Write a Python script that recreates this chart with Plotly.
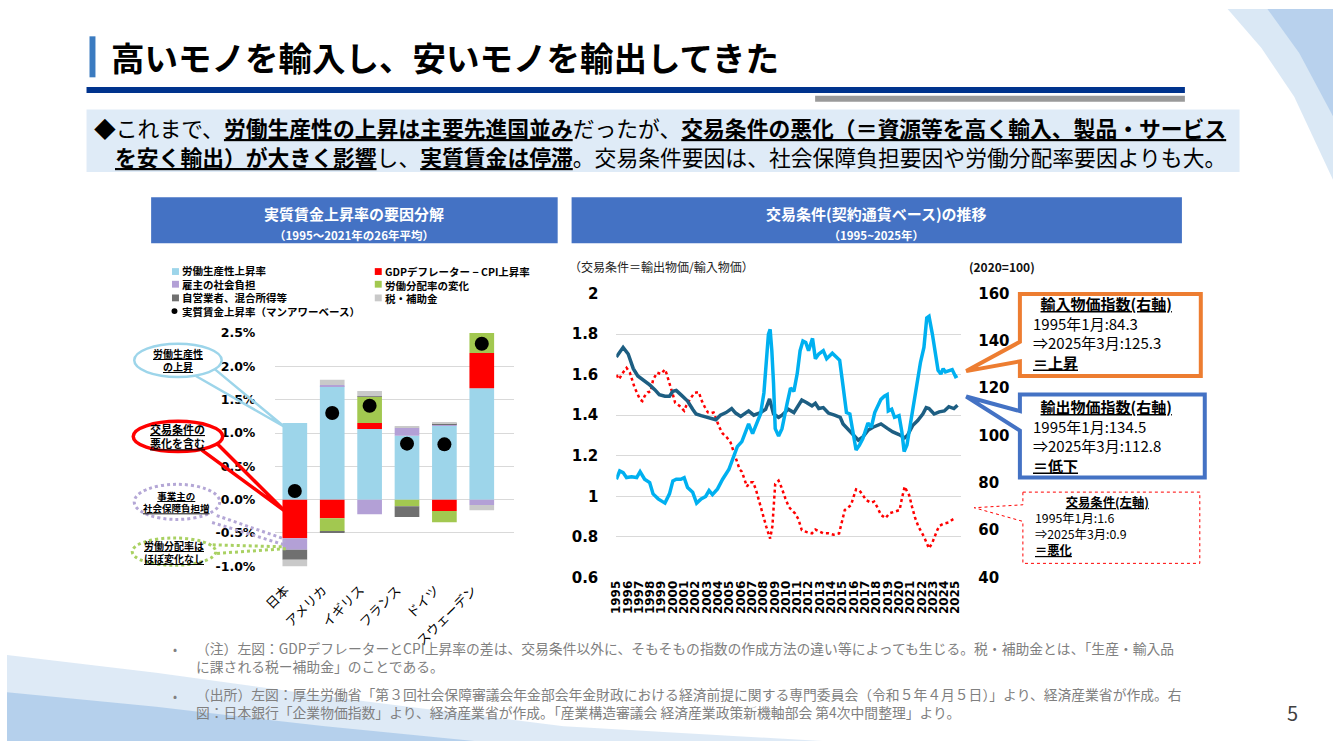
import plotly.graph_objects as go

W, H = 1334, 750


def px(x):
    return x / W


def py(y):
    return 1 - y / H


# ---------------- Left chart data (% , 1995-2021 average) ----------------
COUNTRIES = ["日本", "アメリカ", "イギリス", "フランス", "ドイツ", "スウェーデン"]
PRODUCTIVITY = [1.15, 1.70, 1.06, 0.96, 1.11, 1.67]
DEFLATOR_GAP = [-0.58, -0.28, 0.09, 0.00, -0.17, 0.53]
EMPLOYER_SS = [-0.17, 0.02, -0.22, 0.12, 0.02, -0.08]
LABOR_SHARE = [0.00, -0.20, 0.39, -0.10, -0.17, 0.30]
SELF_EMPLOYED = [-0.15, -0.01, 0.01, -0.16, 0.01, 0.00]
TAX_SUBSIDY = [-0.12, 0.08, 0.08, 0.02, 0.02, -0.08]
REAL_WAGE = [0.13, 1.30, 1.41, 0.84, 0.83, 2.34]
LEFT_TICKS = [-1.0, -0.5, 0.0, 0.5, 1.0, 1.5, 2.0, 2.5]
LEFT_TICKTEXT = ["-1.0%", "-0.5%", "0.0%", "0.5%", "1.0%", "1.5%", "2.0%", "2.5%"]

# ---------------- Right chart data ----------------
EXPORT_T = [1995.0, 1995.6, 1996.05, 1996.5, 1996.9, 1997.5, 1997.95, 1998.4, 1998.8, 1999.3,
            1999.7, 2000.0, 2000.3, 2000.7, 2001.3, 2001.75, 2002.05, 2002.5, 2003.1, 2003.8,
            2004.2, 2004.7, 2005.2, 2005.55, 2006.0, 2006.7, 2007.15, 2007.75, 2008.2, 2008.55,
            2008.9, 2009.35, 2009.65, 2010.2, 2010.7, 2011.4, 2011.85, 2012.3, 2012.6, 2012.9,
            2013.3, 2013.75, 2014.3, 2014.8, 2015.05, 2015.5, 2015.95, 2016.4, 2016.8, 2017.25,
            2017.7, 2018.1, 2018.4, 2019.0, 2019.45, 2020.0, 2020.5, 2020.75, 2021.2, 2021.65,
            2022.1, 2022.4, 2022.65, 2023.1, 2023.55, 2024.0, 2024.4, 2024.85, 2025.17]
EXPORT_IDX = [133.2, 137.3, 134.5, 128.3, 125.2, 123.2, 121.4, 119.4, 117.3, 116.6,
              116.6, 118.7, 119.1, 117.3, 114.6, 111.1, 109.1, 108.4, 107.7, 106.7,
              108.6, 109.7, 111.4, 109.5, 108.1, 110.4, 108.6, 109.7, 111.1, 115.5,
              109.1, 107.7, 108.6, 111.1, 109.7, 115.0, 113.9, 112.5, 113.6, 111.4,
              111.8, 109.5, 108.6, 107.7, 104.9, 102.6, 99.8, 98.0, 99.4, 102.2,
              103.5, 104.5, 104.9, 102.9, 101.5, 100.4, 99.0, 100.1, 104.2, 106.3,
              109.1, 111.8, 111.4, 109.1, 110.0, 110.4, 112.2, 111.4, 112.8]

IMPORT_T = [1995.0, 1995.3, 1995.6, 1995.9, 1996.35, 1996.8, 1997.1, 1997.5, 1997.95, 1998.25,
            1998.7, 1999.3, 1999.7, 2000.0, 2000.3, 2000.7, 2001.0, 2001.3, 2001.75, 2002.1,
            2002.5, 2002.9, 2003.2, 2003.5, 2003.95, 2004.4, 2004.95, 2005.25, 2005.7, 2006.1,
            2006.4, 2006.7, 2007.05, 2007.45, 2007.75, 2008.05, 2008.25, 2008.45, 2008.6, 2008.75,
            2008.9, 2009.05, 2009.35, 2009.65, 2010.1, 2010.4, 2010.7, 2011.0, 2011.25, 2011.5,
            2011.75, 2012.0, 2012.35, 2012.6, 2012.9, 2013.3, 2013.6, 2014.1, 2014.45, 2014.75,
            2015.05, 2015.35, 2015.65, 2015.95, 2016.2, 2016.5, 2016.8, 2017.25, 2017.55, 2017.85,
            2018.1, 2018.4, 2018.7, 2018.95, 2019.05, 2019.35, 2019.6, 2020.0, 2020.25, 2020.45,
            2020.7, 2021.05, 2021.5, 2021.9, 2022.2, 2022.45, 2022.65, 2022.95, 2023.25, 2023.45,
            2023.7, 2023.9, 2024.1, 2024.4, 2024.7, 2025.0, 2025.17]
IMPORT_IDX = [81.5, 85.0, 84.3, 82.2, 82.5, 82.2, 84.7, 81.5, 80.1, 75.3,
              73.2, 71.4, 75.3, 80.8, 81.5, 81.5, 82.2, 78.0, 76.0, 71.4,
              73.2, 74.2, 76.7, 75.0, 77.4, 81.5, 85.6, 89.8, 95.3, 97.4,
              101.5, 104.9, 100.8, 105.6, 109.1, 118.0, 129.0, 142.8, 144.9, 135.9,
              122.2, 102.9, 99.8, 102.9, 113.5, 120.1, 118.7, 126.3, 135.9, 140.0,
              139.4, 135.9, 141.1, 132.5, 134.5, 135.9, 132.5, 134.8, 133.2, 131.8,
              120.8, 109.7, 109.1, 101.5, 93.9, 96.0, 98.7, 105.3, 103.5, 109.7,
              112.5, 115.3, 116.6, 117.3, 110.4, 111.1, 107.7, 108.4, 101.5, 93.2,
              96.0, 107.0, 119.4, 131.1, 137.3, 149.7, 150.4, 142.8, 134.5, 127.6,
              126.0, 128.3, 126.9, 127.6, 127.9, 124.9, 125.3]

TOT_T = [1995.0, 1995.25, 1995.5, 1995.9, 1996.2, 1996.4, 1996.6, 1996.9, 1997.1, 1997.3,
         1997.5, 1997.8, 1998.05, 1998.25, 1998.6, 1998.95, 1999.3, 1999.45, 1999.7, 2000.0,
         2000.2, 2000.6, 2001.0, 2001.2, 2001.5, 2001.9, 2002.3, 2002.5, 2002.8, 2003.1,
         2003.4, 2003.6, 2003.8, 2004.1, 2004.4, 2004.8, 2005.1, 2005.35, 2005.6, 2005.9,
         2006.1, 2006.3, 2006.55, 2006.8, 2007.1, 2007.35, 2007.55, 2007.75, 2008.0, 2008.25,
         2008.45, 2008.6, 2008.8, 2008.9, 2009.05, 2009.35, 2009.6, 2009.95, 2010.25, 2010.5,
         2010.8, 2011.1, 2011.4, 2011.85, 2012.3, 2012.6, 2012.9, 2013.3, 2013.75, 2014.2,
         2014.7, 2014.95, 2015.2, 2015.5, 2015.75, 2016.0, 2016.2, 2016.5, 2016.8, 2017.1,
         2017.5, 2017.8, 2018.1, 2018.4, 2018.8, 2019.15, 2019.6, 2020.05, 2020.25, 2020.5,
         2020.7, 2020.9, 2021.15, 2021.4, 2021.7, 2021.95, 2022.2, 2022.45, 2022.65, 2022.95,
         2023.15, 2023.4, 2023.6, 2023.95, 2024.4, 2024.7, 2025.0]
TOT_VAL = [1.599, 1.578, 1.604, 1.634, 1.610, 1.575, 1.539, 1.502, 1.478, 1.470,
           1.494, 1.514, 1.517, 1.575, 1.610, 1.604, 1.626, 1.604, 1.551, 1.502,
           1.462, 1.446, 1.422, 1.449, 1.478, 1.510, 1.514, 1.478, 1.443, 1.414,
           1.411, 1.414, 1.385, 1.342, 1.310, 1.289, 1.266, 1.221, 1.178, 1.133,
           1.122, 1.085, 1.048, 1.069, 1.069, 1.032, 0.989, 0.948, 0.900, 0.852,
           0.817, 0.791, 0.852, 0.948, 1.061, 1.077, 1.045, 0.989, 0.948, 0.932,
           0.916, 0.887, 0.833, 0.823, 0.817, 0.836, 0.828, 0.817, 0.817, 0.810,
           0.817, 0.871, 0.932, 0.945, 0.956, 1.001, 1.034, 1.029, 1.005, 0.981,
           0.968, 0.974, 0.944, 0.908, 0.892, 0.916, 0.924, 0.932, 0.989, 1.048,
           1.025, 1.005, 0.948, 0.897, 0.852, 0.828, 0.801, 0.769, 0.743, 0.772,
           0.804, 0.836, 0.855, 0.865, 0.871, 0.884, 0.892]

YEARS = list(range(1995, 2026))
YEAR_LABELS = [str(y) for y in YEARS]
TOT_TICKS = [0.6, 0.8, 1.0, 1.2, 1.4, 1.6, 1.8, 2.0]
TOT_TICKTEXT = ["0.6", "0.8", "1", "1.2", "1.4", "1.6", "1.8", "2"]
IDX_TICKS = [40, 60, 80, 100, 120, 140, 160]

# ---------------- Colors ----------------
C_PROD = "#9DD5EA"
C_RED = "#FF0000"
C_PURPLE = "#B3A0D6"
C_GREEN = "#A2C850"
C_DGRAY = "#707070"
C_LGRAY = "#C9C9C9"
C_IMPORT = "#00B0F0"
C_EXPORT = "#1D5E82"

JP = "Noto Sans CJK JP"
NUM = "DejaVu Sans"
CLEAR = "rgba(0,0,0,0)"

fig = go.Figure()

bar_specs = [
    ("労働生産性上昇率", PRODUCTIVITY, C_PROD),
    ("GDPデフレーター − CPI上昇率", DEFLATOR_GAP, C_RED),
    ("雇主の社会負担", EMPLOYER_SS, C_PURPLE),
    ("労働分配率の変化", LABOR_SHARE, C_GREEN),
    ("自営業者、混合所得等", SELF_EMPLOYED, C_DGRAY),
    ("税・補助金", TAX_SUBSIDY, C_LGRAY),
]
for name, vals, col in bar_specs:
    fig.add_trace(go.Bar(x=COUNTRIES, y=vals, name=name, marker=dict(color=col, line=dict(width=0)),
                         width=0.66, xaxis="x", yaxis="y", showlegend=False))
fig.add_trace(go.Scatter(x=COUNTRIES, y=REAL_WAGE, mode="markers", name="実質賃金上昇率",
                         marker=dict(color="black", size=14), xaxis="x", yaxis="y", showlegend=False))

# right chart
fig.add_trace(go.Scatter(x=EXPORT_T, y=EXPORT_IDX, mode="lines", name="輸出物価指数",
                         line=dict(color=C_EXPORT, width=3.5), xaxis="x2", yaxis="y4", showlegend=False))
fig.add_trace(go.Scatter(x=IMPORT_T, y=IMPORT_IDX, mode="lines", name="輸入物価指数",
                         line=dict(color=C_IMPORT, width=3.5), xaxis="x2", yaxis="y4", showlegend=False))
fig.add_trace(go.Scatter(x=TOT_T, y=TOT_VAL, mode="lines", name="交易条件",
                         line=dict(color=C_RED, width=2.5, dash="dot"), xaxis="x2", yaxis="y3", showlegend=False))

shapes = []
annotations = []


def rect(x0, y0, x1, y1, fill, line_color=None, lw=0, dash=None, layer="above"):
    d = dict(type="rect", xref="paper", yref="paper", x0=px(x0), x1=px(x1), y0=py(y1), y1=py(y0),
             fillcolor=fill, layer=layer, line=dict(width=lw, color=line_color or fill))
    if dash:
        d["line"]["dash"] = dash
    shapes.append(d)


def path(points, fill, line_color, lw, dash=None, closed=True, layer="above"):
    s = "M " + " L ".join(f"{px(x):.5f},{py(y):.5f}" for x, y in points)
    if closed:
        s += " Z"
    d = dict(type="path", xref="paper", yref="paper", path=s, fillcolor=fill, layer=layer,
             line=dict(color=line_color, width=lw))
    if dash:
        d["line"]["dash"] = dash
    shapes.append(d)


def ellipse(cx, cy, rx, ry, line_color, lw, dash=None):
    d = dict(type="circle", xref="paper", yref="paper", x0=px(cx - rx), x1=px(cx + rx),
             y0=py(cy + ry), y1=py(cy - ry), fillcolor="white", layer="above",
             line=dict(color=line_color, width=lw))
    if dash:
        d["line"]["dash"] = dash
    shapes.append(d)


def text(x, y, t, size, color="black", xanchor="left", family=JP, align=None):
    f = dict(size=size, color=color, family=family)
    annotations.append(dict(x=px(x), y=py(y), xref="paper", yref="paper", text=t, showarrow=False,
                            xanchor=xanchor, yanchor="middle", font=f,
                            align=align or (xanchor if xanchor != "center" else "center")))


# ---- decorative background ----
path([(0, 662), (150, 680), (350, 708), (560, 735), (820, 750), (0, 750)], "rgba(214,229,244,0.8)", CLEAR, 0, layer="below")
path([(0, 700), (150, 715), (320, 735), (470, 750), (0, 750)], "rgba(170,201,234,0.8)", CLEAR, 0, layer="below")
path([(1228, 0), (1262, 40), (1295, 90), (1334, 175), (1334, 0)], "rgba(214,229,244,0.9)", CLEAR, 0, layer="below")
path([(1268, 0), (1300, 45), (1334, 110), (1334, 0)], "rgba(180,206,236,0.9)", CLEAR, 0, layer="below")

# ---- title area ----
rect(83, 28, 89, 70, "#3B7BC0")
text(103, 49, "<b>高いモノを輸入し、安いモノを輸出してきた</b>", 33.5)
rect(80, 80, 1185, 86, "#00338D")
rect(813, 89, 1185, 95, "#9A9A9A")
rect(80, 103, 1240, 167, "#DFEBF7", layer="below")
text(86, 121,
     "◆これまで、<b><u>労働生産性の上昇は主要先進国並み</u></b>だったが、<b><u>交易条件の悪化（＝資源等を高く輸入、製品・サービス</u></b>",
     21.8)
text(107, 151,
     "<b><u>を安く輸出）が大きく影響</u></b>し、<b><u>実質賃金は停滞</u></b>。交易条件要因は、社会保障負担要因や労働分配率要因よりも大。",
     21.8)

# ---- chart header boxes ----
rect(145, 193, 554, 240, "#4472C4")
rect(568, 193, 1182, 240, "#4472C4")
text(349, 219, "<b>実質賃金上昇率の要因分解</b><br><span style='font-size:11.5px'><b>（1995〜2021年の26年平均）</b></span>", 15, "white", "center")
text(875, 219, "<b>交易条件(契約通貨ベース)の推移</b><br><span style='font-size:11.5px'><b>（1995~2025年）</b></span>", 15, "white", "center")

# ---- left legend (manual) ----
legend_rows = [
    (269, 166, C_PROD, "労働生産性上昇率"),
    (269, 370, C_RED, "GDPデフレーター − CPI上昇率"),
    (282, 166, C_PURPLE, "雇主の社会負担"),
    (282, 370, C_GREEN, "労働分配率の変化"),
    (296, 166, C_DGRAY, "自営業者、混合所得等"),
    (296, 370, C_LGRAY, "税・補助金"),
]
for yy, xx, col, lab in legend_rows:
    rect(xx, yy - 3.5, xx + 7, yy + 3.5, col)
left_col = "<br>".join(f"<b>{r[3]}</b>" for r in legend_rows if r[1] == 166) + "<br><b>実質賃金上昇率（マンアワーベース）</b>"
right_col = "<br>".join(f"<b>{r[3]}</b>" for r in legend_rows if r[1] == 370)
text(174, 289, left_col, 10.5)
text(378, 282.5, right_col, 10.5)
shapes.append(dict(type="circle", xref="paper", yref="paper", x0=px(165.5), x1=px(171.5),
                   y0=py(312.5), y1=py(306.5), fillcolor="black", line=dict(width=0), layer="above"))

# ---- left chart category labels (rotated, positioned at each category) ----
for c in COUNTRIES:
    annotations.append(dict(x=c, xref="x", y=py(583), yref="paper", text=c, showarrow=False,
                            textangle=-45, xanchor="right", yanchor="top", xshift=1,
                            font=dict(size=13, family=JP, color="black")))

# ---- left callouts ----
path([(190, 376), (279, 428), (209, 369)], CLEAR, C_PROD, 2.5, closed=False)
ellipse(172, 360, 44, 17, C_PROD, 2.5)
text(172, 360, "<b><u>労働生産性</u></b><br><b><u>の上昇</u></b>", 10, xanchor="center")

path([(196, 452), (279, 514), (212, 446)], CLEAR, C_RED, 3.5, closed=False)
ellipse(172, 438, 45, 15.5, C_RED, 3.5)
text(172, 438, "<b><u>交易条件の</u></b><br><b><u>悪化を含む</u></b>", 11, xanchor="center")

path([(211, 519), (279, 543), (279, 549), (206, 526)], CLEAR, "#B4A7D6", 3, dash="dot", closed=False)
ellipse(171, 505, 43, 18, "#B4A7D6", 3, dash="dot")
text(171, 505, "<b><u>事業主の</u></b><br><b><u>社会保障負担増</u></b>", 9.5, xanchor="center")

path([(207, 549), (279, 551), (279, 553), (208, 558)], CLEAR, "#A9D162", 3, dash="dot", closed=False)
ellipse(168, 556, 42, 14, "#A9D162", 3, dash="dot")
text(168, 556, "<b><u>労働分配率は</u></b><br><b><u>ほぼ変化なし</u></b>", 10, xanchor="center")

# ---- right chart texts ----
text(563, 264, "（交易条件＝輸出物価/輸入物価）", 12, "#222")
text(966, 264, "<b>(2020=100)</b>", 12, "#111")

# orange box (import)
path([(1019, 292), (1201, 292), (1201, 376), (1019, 376), (1019, 361), (965, 371), (1019, 341)],
     "white", "#ED7D31", 4)
text(1030, 332, "\u2002<b><u>輸入物価指数(右軸)</u></b><br>1995年1月:84.3<br>⇒2025年3月:125.3<br><b><u>＝上昇</u></b>", 15)

# blue box (export)
path([(1019, 395), (1205, 395), (1205, 480), (1019, 480), (1019, 432), (965, 397), (1019, 412)],
     "white", "#4472C4", 4)
text(1030, 437, "\u2002<b><u>輸出物価指数(右軸)</u></b><br>1995年1月:134.5<br>⇒2025年3月:112.8<br><b><u>＝低下</u></b>", 15)

# red dotted box (terms of trade)
path([(1022, 495), (1200, 495), (1200, 568), (1022, 568), (1022, 525), (973, 511), (1022, 508)],
     "white", C_RED, 1, dash="dot")
text(1032, 530, "\u3000\u3000\u2002<b><u>交易条件(左軸)</u></b><br>1995年1月:1.6<br>⇒2025年3月:0.9<br><b><u>＝悪化</u></b>", 12.3)

# ---- footnotes ----
FN = "#808080"
text(165, 655, "•", 12, FN)
text(188, 663.5,
     "（注）左図：GDPデフレーターとCPI上昇率の差は、交易条件以外に、そもそもの指数の作成方法の違い等によっても生じる。税・補助金とは、「生産・輸入品"
     "<br>に課される税ー補助金」のことである。", 13.8, FN)
text(165, 703, "•", 12, FN)
text(188, 711.5,
     "（出所）左図：厚生労働省「第３回社会保障審議会年金部会年金財政における経済前提に関する専門委員会（令和５年４月５日）」より、経済産業省が作成。右"
     "<br>図：日本銀行「企業物価指数」より、経済産業省が作成。「産業構造審議会 経済産業政策新機軸部会 第4次中間整理」より。", 13.8, FN)
text(1293, 721, "5", 20, "#404040", "center")

fig.update_layout(
    width=W, height=H, margin=dict(l=0, r=0, t=0, b=0),
    paper_bgcolor="white", plot_bgcolor="rgba(0,0,0,0)",
    barmode="relative", bargap=0.1,
    font=dict(family=JP, color="black"),
    shapes=shapes, annotations=annotations,
    xaxis=dict(domain=[px(270), px(510)], range=[-0.52, 5.86], type="category", anchor="y",
               showticklabels=False, showgrid=False, showline=False, zeroline=False, ticks=""),
    yaxis=dict(domain=[py(571), py(332)], range=[-1.0, 2.5], anchor="x", tickvals=LEFT_TICKS,
               ticktext=LEFT_TICKTEXT, gridcolor="#D9D9D9", gridwidth=1, zeroline=False, showline=False,
               tickfont=dict(size=12.5, family=NUM, weight="bold"), ticklabelstandoff=19),
    xaxis2=dict(domain=[px(613), px(960)], range=[1995, 2025.5], anchor="y3", tickvals=YEARS,
                ticktext=YEAR_LABELS, tickangle=-90, tickfont=dict(size=12, family=NUM, weight="bold"),
                showgrid=False, zeroline=False, showline=False, ticks=""),
    yaxis3=dict(domain=[py(582.3), py(291.7)], range=[0.6, 2.0], anchor="x2", tickvals=TOT_TICKS,
                ticktext=TOT_TICKTEXT, gridcolor="#D9D9D9", gridwidth=1, zeroline=False, showline=False,
                tickfont=dict(size=15, family=NUM, weight="bold"), ticklabelstandoff=17),
    yaxis4=dict(range=[40, 160], anchor="x2", overlaying="y3", side="right", tickvals=IDX_TICKS,
                showgrid=False, zeroline=False, showline=False,
                tickfont=dict(size=15, family=NUM, weight="bold"), ticklabelstandoff=16),
)

fig.write_html("out.html")
